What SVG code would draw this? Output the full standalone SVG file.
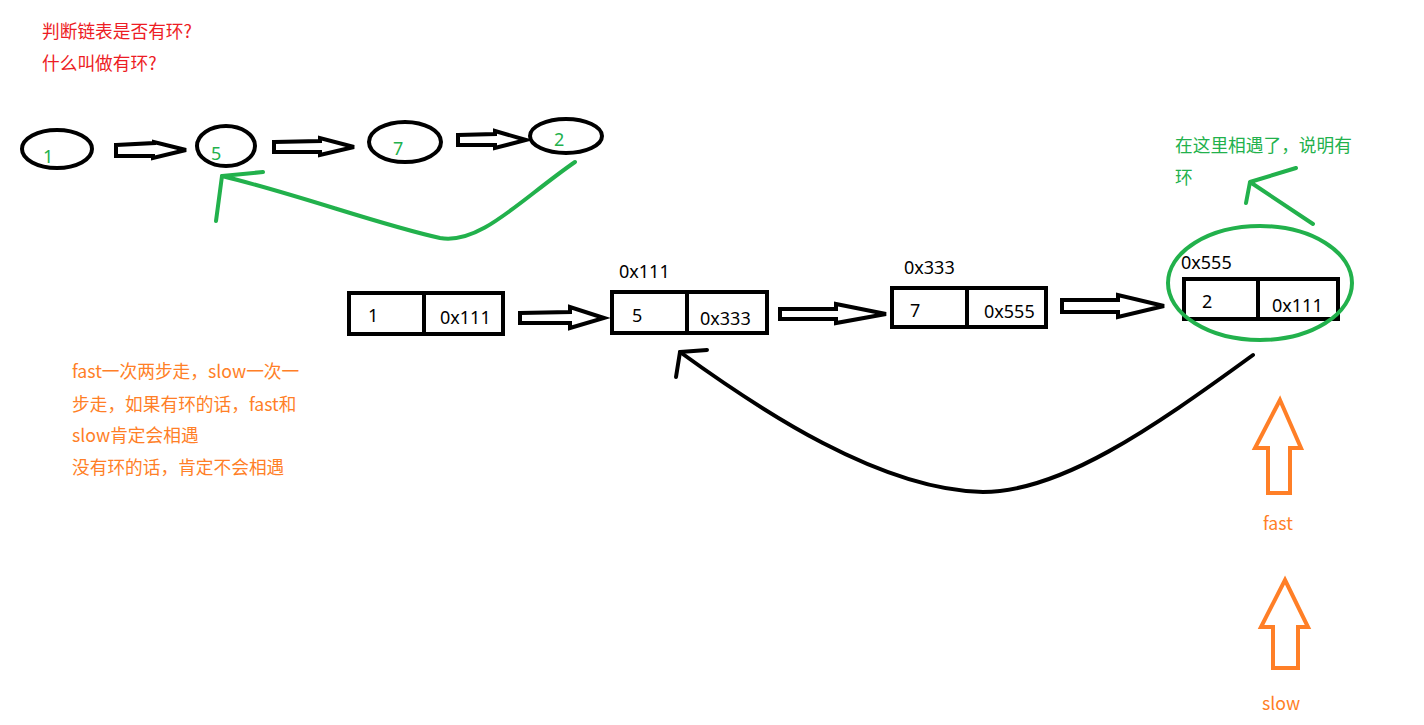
<svg xmlns="http://www.w3.org/2000/svg" width="1424" height="725" viewBox="0 0 1424 725">
<style>
.t{font-family:"Noto Sans CJK SC","Noto Sans",sans-serif;font-size:17.7px}
.b{font-family:"Noto Sans","Liberation Sans",sans-serif;font-size:18px;fill:#000}
.g{fill:#22b14c}.r{fill:#ed1c24}.o{fill:#ff7f27}
.k{fill:none;stroke:#000;stroke-width:4}
.gs{fill:none;stroke:#22b14c;stroke-width:4;stroke-linecap:round}
.os{fill:none;stroke:#ff7f27;stroke-width:4}
</style>
<rect width="1424" height="725" fill="#fff"/>
<text class="t r" x="42" y="38">判断链表是否有环?</text>
<text class="t r" x="42" y="70">什么叫做有环?</text>
<g id="top-nodes">
<g id="c1"><ellipse class="k" cx="57" cy="149" rx="35" ry="19"/><text class="b g" x="43" y="163">1</text></g>
<g id="c5"><ellipse class="k" cx="226" cy="146" rx="29" ry="20"/><text class="b g" x="211" y="160">5</text></g>
<g id="c7"><ellipse class="k" cx="405" cy="142" rx="36" ry="20"/><text class="b g" x="393" y="155">7</text></g>
<g id="c2"><ellipse class="k" cx="566" cy="136" rx="36" ry="17"/><text class="b g" x="554" y="146">2</text></g>
</g>
<g id="connectors">
<polygon class="k" points="116,145 154,143 154,142 186,150 153,158 153,156 116,156"/>
<polygon class="k" points="274,142 320,141 320,138 354,147 320,155 320,152 274,152"/>
<polygon class="k" points="458,135 495,134 495,131 526,140 495,148 495,145 458,145"/>
<path class="gs" d="M575,162 C520,200 480,245 440,238 C380,225 300,195 222,176"/>
<path class="gs" d="M222,176 L263,172 M222,176 L216,221"/>
<polygon class="k" points="520,313 570,312 570,307 604,318 570,328 570,323 520,323"/>
<polygon class="k" points="780,309 836,309 836,304 886,314 836,323 836,319 780,319"/>
<polygon class="k" points="1062,300 1118,300 1118,295 1164,306 1118,317 1118,312 1062,312"/>
<path d="M1253,355 C1150,430 1060,492 983,492 C880,490 760,410 680,352" fill="none" stroke="#000" stroke-width="4" stroke-linecap="round"/>
<path d="M680,352 L707,350 M680,352 L676,377" fill="none" stroke="#000" stroke-width="4" stroke-linecap="round"/>
<path class="gs" d="M1313,224 L1250,182 M1250,182 L1296,168 M1250,182 L1246,203"/>
<polygon class="os" points="1280,400 1301,448 1290,448 1290,493 1268,493 1268,448 1255,448"/>
<polygon class="os" points="1285,580 1308,627 1298,627 1298,668 1273,668 1273,627 1261,627"/>
</g>
<g id="n1"><rect class="k" x="349" y="293" width="154" height="41"/><line class="k" x1="424" y1="293" x2="424" y2="334"/><text class="b" x="368" y="322">1</text><text class="b" x="440" y="324">0x111</text></g>
<g id="n2"><text class="b" x="619" y="278">0x111</text><rect class="k" x="612" y="292" width="155" height="41"/><line class="k" x1="687" y1="292" x2="687" y2="333"/><text class="b" x="632" y="322">5</text><text class="b" x="700" y="325">0x333</text></g>
<g id="n3"><text class="b" x="904" y="274">0x333</text><rect class="k" x="892" y="288" width="154" height="39"/><line class="k" x1="967" y1="288" x2="967" y2="327"/><text class="b" x="910" y="317">7</text><text class="b" x="984" y="318">0x555</text></g>
<g id="n4"><text class="b" x="1181" y="269">0x555</text><rect class="k" x="1184" y="279" width="154" height="40"/><line class="k" x1="1258" y1="279" x2="1258" y2="319"/><text class="b" x="1202" y="308">2</text><text class="b" x="1272" y="312">0x111</text></g>
<ellipse cx="1260" cy="283" rx="92" ry="57" fill="none" stroke="#22b14c" stroke-width="4"/>
<text class="t g" x="1175" y="152">在这里相遇了，说明有</text>
<text class="t g" x="1175" y="184">环</text>
<text class="t o" x="72" y="378">fast一次两步走，slow一次一</text>
<text class="t o" x="72" y="411">步走，如果有环的话，fast和</text>
<text class="t o" x="72" y="442">slow肯定会相遇</text>
<text class="t o" x="72" y="474">没有环的话，肯定不会相遇</text>
<text class="t o" x="1263" y="530">fast</text>
<text class="t o" x="1262" y="710">slow</text>
</svg>
